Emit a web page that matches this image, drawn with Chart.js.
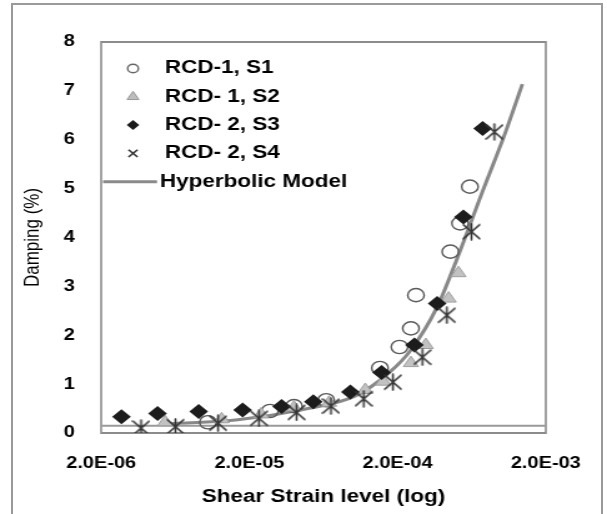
<!DOCTYPE html>
<html><head><meta charset="utf-8">
<script src="https://cdn.jsdelivr.net/npm/chart.js@4/dist/chart.umd.min.js"></script>
<style>
html,body{margin:0;padding:0;background:#fff;overflow:hidden;width:607px;height:514px;}
#frame{position:absolute;left:11px;top:3px;width:592px;height:530px;border:2px solid #9a9a9a;box-sizing:border-box;}
#wrap{position:absolute;left:0;top:0;width:486px;height:514px;transform:scaleX(1.249);transform-origin:0 0;}
</style></head><body>
<div id="frame"></div>
<div id="wrap"><canvas id="c"></canvas></div>
<script>
// ---- data ----
const xTickValues = [2e-6, 2e-5, 2e-4, 2e-3];
const xTickLabels = ['2.0E-06', '2.0E-05', '2.0E-04', '2.0E-03'];
const seriesNames = ['RCD-1, S1', 'RCD- 1, S2', 'RCD- 2, S3', 'RCD- 2, S4', 'Hyperbolic Model'];

const s1Strain = [1.05e-5, 2.75e-5, 4.0e-5, 6.6e-5, 1.52e-4, 2.06e-4, 2.46e-4, 2.66e-4, 4.54e-4, 5.28e-4, 6.15e-4];
const s1Damp   = [0.22, 0.45, 0.55, 0.67, 1.33, 1.76, 2.14, 2.82, 3.71, 4.29, 5.04];

const s2Strain = [5.4e-6, 1.3e-5, 2.4e-5, 4.0e-5, 6.9e-5, 1.21e-4, 1.6e-4, 2.46e-4, 3.1e-4, 4.42e-4, 5.15e-4];
const s2Damp   = [0.22, 0.28, 0.38, 0.52, 0.62, 0.88, 1.05, 1.43, 1.80, 2.75, 3.27];

const s3Strain = [2.74e-6, 4.8e-6, 9.1e-6, 1.8e-5, 3.3e-5, 5.4e-5, 9.6e-5, 1.56e-4, 2.6e-4, 3.7e-4, 5.56e-4, 7.5e-4];
const s3Damp   = [0.33, 0.40, 0.44, 0.47, 0.54, 0.64, 0.84, 1.24, 1.80, 2.65, 4.42, 6.23];

const s4Strain = [3.72e-6, 6.34e-6, 1.23e-5, 2.32e-5, 4.16e-5, 7.1e-5, 1.18e-4, 1.86e-4, 2.94e-4, 4.3e-4, 6.3e-4, 9.0e-4];
const s4Damp   = [0.10, 0.13, 0.20, 0.30, 0.42, 0.55, 0.70, 1.04, 1.55, 2.41, 4.12, 6.16];

const modelStrain = [5e-6, 1.67e-5, 4.6e-5, 1.04e-4, 1.73e-4, 2.46e-4, 3.7e-4, 5.0e-4, 7.5e-4, 1.05e-3, 1.39e-3];
const modelDamp   = [0.18, 0.27, 0.48, 0.76, 1.22, 1.70, 2.58, 3.54, 4.95, 6.09, 7.14];

const dminStrain = [2e-6, 2e-3];
const dminDamp   = [0.15, 0.15];

// ---- helpers ----
const pts = (xs, ys) => xs.map((x, i) => ({x: x, y: ys[i]}));
const FONT = '"Liberation Sans", Arial, sans-serif';

function makeStar(w, h, color, lw) {
  const c = document.createElement('canvas');
  c.width = w; c.height = h;
  const g = c.getContext('2d');
  g.strokeStyle = color; g.lineWidth = lw; g.lineCap = 'round';
  g.beginPath();
  g.moveTo(w / 2, 1); g.lineTo(w / 2, h - 1);
  g.moveTo(1, 2); g.lineTo(w - 1, h - 2);
  g.moveTo(w - 1, 2); g.lineTo(1, h - 2);
  g.stroke();
  return c;
}
const starImg = makeStar(15, 18, '#333333', 1.6);

const frameColor = '#8c8c8c';

const borderPlugin = {
  id: 'plotBorder',
  beforeDatasetsDraw(chart) {
    const a = chart.chartArea, ctx = chart.ctx;
    ctx.save();
    ctx.strokeStyle = frameColor;
    ctx.lineWidth = 2;
    ctx.beginPath();
    ctx.moveTo(a.left, a.top); ctx.lineTo(a.right, a.top);
    ctx.moveTo(a.left, a.bottom); ctx.lineTo(a.right, a.bottom);
    ctx.stroke();
    ctx.lineWidth = 1.6;
    ctx.beginPath();
    ctx.moveTo(a.left, a.top - 1); ctx.lineTo(a.left, a.bottom + 1);
    ctx.moveTo(a.right, a.top - 1); ctx.lineTo(a.right, a.bottom + 1);
    ctx.stroke();
    ctx.restore();
  }
};

const legendPlugin = {
  id: 'customLegend',
  afterDraw(chart) {
    const ctx = chart.ctx;
    ctx.save();
    const mx = 106.5, tx = 132, y0 = 68.5, dy = 28.3;
    ctx.font = 'bold 18px ' + FONT;
    ctx.textBaseline = 'middle';
    ctx.textAlign = 'left';
    for (let i = 0; i < 5; i++) {
      const y = y0 + i * dy;
      ctx.save();
      if (i === 0) {
        ctx.beginPath(); ctx.arc(mx, y, 4.3, 0, Math.PI * 2);
        ctx.strokeStyle = '#666'; ctx.lineWidth = 1.4; ctx.stroke();
      } else if (i === 1) {
        const r = 5.5;
        ctx.beginPath();
        ctx.moveTo(mx, y - r); ctx.lineTo(mx + r * 0.866, y + r * 0.5); ctx.lineTo(mx - r * 0.866, y + r * 0.5); ctx.closePath();
        ctx.fillStyle = '#bdbdbd'; ctx.fill(); ctx.strokeStyle = '#9a9a9a'; ctx.lineWidth = 1; ctx.stroke();
      } else if (i === 2) {
        const r = 5;
        ctx.beginPath();
        ctx.moveTo(mx, y - r); ctx.lineTo(mx + r, y); ctx.lineTo(mx, y + r); ctx.lineTo(mx - r, y); ctx.closePath();
        ctx.fillStyle = '#1a1a1a'; ctx.fill();
      } else if (i === 3) {
        const r = 3.6;
        ctx.beginPath();
        ctx.moveTo(mx - r, y - r); ctx.lineTo(mx + r, y + r);
        ctx.moveTo(mx + r, y - r); ctx.lineTo(mx - r, y + r);
        ctx.strokeStyle = '#333'; ctx.lineWidth = 1.6; ctx.stroke();
      } else {
        ctx.beginPath(); ctx.moveTo(82.5, y); ctx.lineTo(125.7, y);
        ctx.strokeStyle = '#8a8a8a'; ctx.lineWidth = 3; ctx.stroke();
      }
      ctx.restore();
      ctx.fillStyle = '#000';
      ctx.fillText(seriesNames[i], i === 4 ? 128 : tx, y);
    }
    ctx.restore();
  }
};

new Chart(document.getElementById('c'), {
  type: 'scatter',
  data: {
    datasets: [
      { label: seriesNames[0], data: pts(s1Strain, s1Damp), order: 4,
        pointStyle: 'circle', pointRadius: 6.6, pointBorderWidth: 1.4,
        pointBackgroundColor: 'rgba(255,255,255,0)', pointBorderColor: '#5a5a5a', showLine: false },
      { label: seriesNames[1], data: pts(s2Strain, s2Damp), order: 3,
        pointStyle: 'triangle', pointRadius: 7, pointBorderWidth: 1,
        pointBackgroundColor: '#c2c2c2', pointBorderColor: '#a0a0a0', showLine: false },
      { label: seriesNames[2], data: pts(s3Strain, s3Damp), order: 2,
        pointStyle: 'rectRot', pointRadius: 7.5, pointBorderWidth: 0,
        pointBackgroundColor: '#1c1c1c', pointBorderColor: '#1c1c1c', showLine: false },
      { label: seriesNames[3], data: pts(s4Strain, s4Damp), order: 1,
        pointStyle: starImg, pointRadius: 8, showLine: false },
      { label: seriesNames[4], data: pts(modelStrain, modelDamp), order: 5,
        showLine: true, borderColor: '#888888', borderWidth: 3, pointRadius: 0,
        cubicInterpolationMode: 'monotone', fill: false },
      { label: 'Dmin', data: pts(dminStrain, dminDamp), order: 6,
        showLine: true, borderColor: '#9a9a9a', borderWidth: 2, pointRadius: 0, fill: false }
    ]
  },
  options: {
    responsive: true,
    maintainAspectRatio: false,
    animation: false,
    events: [],
    layout: { padding: { left: 0, right: 44, top: 42, bottom: 0 } },
    plugins: { legend: { display: false }, tooltip: { enabled: false } },
    scales: {
      x: {
        type: 'logarithmic', min: 2e-6, max: 2e-3,
        grid: { display: false, drawTicks: false },
        border: { display: false },
        afterBuildTicks: s => { s.ticks = xTickValues.map(v => ({ value: v })); },
        afterFit: s => { s.height = 81; },
        ticks: {
          autoSkip: false, maxRotation: 0, minRotation: 0, padding: 21,
          color: '#000', font: { family: FONT, size: 16, weight: 'bold' },
          callback: (v, i) => xTickLabels[i]
        },
        title: { display: true, text: 'Shear Strain level (log)', color: '#000',
          font: { family: FONT, size: 18, weight: 'bold' }, padding: { top: 0, bottom: 6 } }
      },
      y: {
        type: 'linear', min: 0, max: 8,
        grid: { display: false, drawTicks: false },
        border: { display: false },
        afterFit: s => { s.width = 81; },
        ticks: { stepSize: 1, padding: 21, color: '#000', font: { family: FONT, size: 16, weight: 'bold' } },
        title: { display: true, text: 'Damping (%)', color: '#000',
          font: { family: FONT, size: 17, weight: 'normal' }, padding: { top: 16, bottom: 0 } }
      }
    }
  },
  plugins: [borderPlugin, legendPlugin]
});
</script>
</body></html>
